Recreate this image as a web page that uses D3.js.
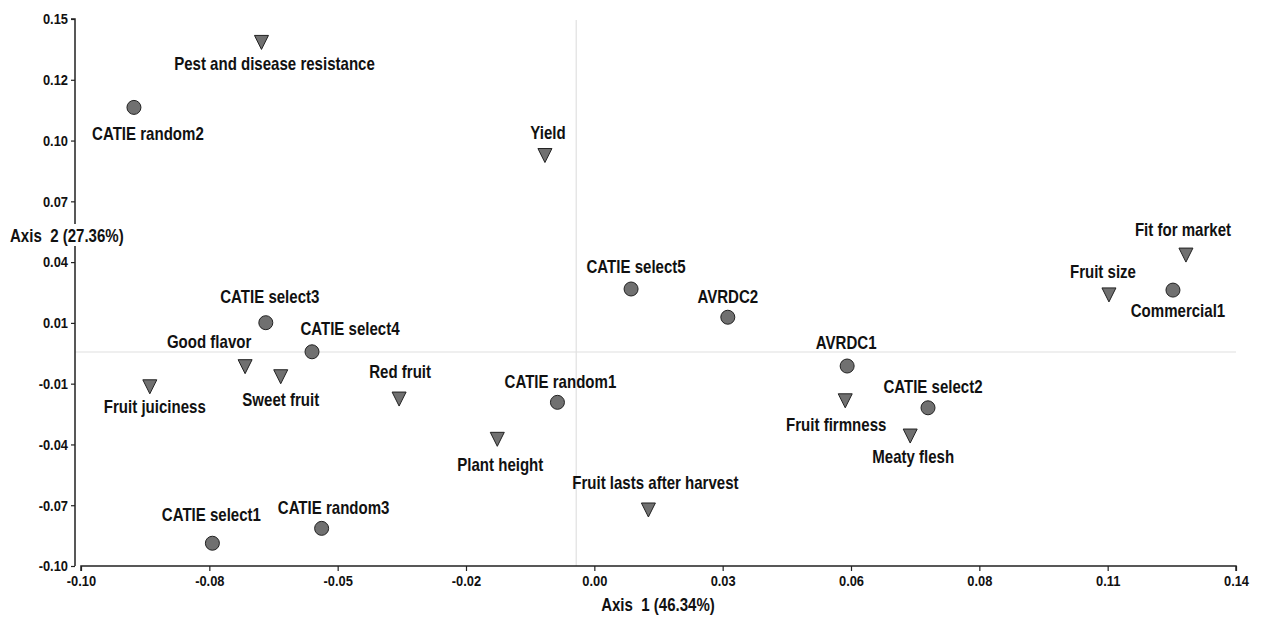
<!DOCTYPE html>
<html>
<head>
<meta charset="utf-8">
<script src="https://cdn.jsdelivr.net/npm/d3@7"></script>
<style>
    body { margin: 0; background: #fff; }
    text { font-family: "Liberation Sans", Arial, sans-serif; font-weight: bold; fill: #111; }
</style>
</head>
<body>
<script>
// cultivars (circles)
var cultivarNames = ["CATIE random2", "CATIE select5", "AVRDC2", "Commercial1", "AVRDC1",
    "CATIE select2", "CATIE select3", "CATIE select4", "CATIE random1", "CATIE select1", "CATIE random3"];
var cultivarAxis1 = [-0.0890, 0.0143, 0.0344, 0.1269, 0.0592, 0.0760, -0.0616, -0.0520, -0.0010, -0.0727, -0.0500];
var cultivarAxis2 = [0.1096, 0.0266, 0.0137, 0.0261, -0.0086, -0.0277, 0.0112, -0.0021, -0.0252, -0.0896, -0.0828];

// attributes (triangles)
var attributeNames = ["Pest and disease resistance", "Yield", "Fit for market", "Fruit size", "Fruit firmness",
    "Meaty flesh", "Good flavor", "Sweet fruit", "Fruit juiciness", "Red fruit", "Plant height", "Fruit lasts after harvest"];
var attributeAxis1 = [-0.0625, -0.0036, 0.1296, 0.1136, 0.0588, 0.0723, -0.0659, -0.0585, -0.0857, -0.0339, -0.0135, 0.0179];
var attributeAxis2 = [0.1393, 0.0876, 0.0421, 0.0239, -0.0245, -0.0406, -0.0089, -0.0135, -0.0181, -0.0237, -0.0421, -0.0744];

// tick labels as printed by the software
var xTickLabels = ["-0.10", "-0.08", "-0.05", "-0.02", "0.00", "0.03", "0.06", "0.08", "0.11", "0.14"];
var yTickLabels = ["0.15", "0.12", "0.10", "0.07", "0.04", "0.01", "-0.01", "-0.04", "-0.07", "-0.10"];

var xDomain = [-0.10, 0.14],
    yDomain = [-0.10, 0.15];

// where the reference (origin) lines sit
var originX = 0.0029,
    originY = -0.0022;

// label offsets (px) relative to each marker
var labelOffset = {
    "CATIE random2": [14, 26], "CATIE select5": [5, -22], "AVRDC2": [0, -20], "Commercial1": [5, 21],
    "AVRDC1": [-1, -23], "CATIE select2": [5, -21], "CATIE select3": [4, -26], "CATIE select4": [38, -23],
    "CATIE random1": [3, -20], "CATIE select1": [-1, -28], "CATIE random3": [12, -20],
    "Pest and disease resistance": [13, 21], "Yield": [3, -23], "Fit for market": [-3, -25],
    "Fruit size": [-6, -23], "Fruit firmness": [-9, 24], "Meaty flesh": [3, 21], "Good flavor": [-36, -25],
    "Sweet fruit": [0, 23], "Fruit juiciness": [5, 20], "Red fruit": [1, -27], "Plant height": [3, 26],
    "Fruit lasts after harvest": [7, -27]
};

var width = 1265,
    height = 617;

// the original picture is squeezed horizontally, so text is too
var squeeze = 0.86;

var svg = d3.select("body").append("svg")
    .attr("width", width)
    .attr("height", height);

var x = d3.scaleLinear().domain(xDomain).range([81, 1236]);
var y = d3.scaleLinear().domain(yDomain).range([566, 19]);

var xTicks = xTickLabels.map(function (d, i) { return xDomain[0] + i * (xDomain[1] - xDomain[0]) / (xTickLabels.length - 1); });
var yTicks = yTickLabels.map(function (d, i) { return yDomain[1] - i * (yDomain[1] - yDomain[0]) / (yTickLabels.length - 1); });

// reference lines
svg.append("line")
    .attr("x1", x(originX)).attr("x2", x(originX))
    .attr("y1", y(yDomain[1]) + 1).attr("y2", y(yDomain[0]))
    .attr("stroke", "#e0e0e0").attr("stroke-width", 1.2);
svg.append("line")
    .attr("x1", 75).attr("x2", x(xDomain[1]))
    .attr("y1", y(originY)).attr("y2", y(originY))
    .attr("stroke", "#e0e0e0").attr("stroke-width", 1.2);

// x axis
var xAxis = svg.append("g")
    .attr("transform", "translate(0," + 566 + ")")
    .call(d3.axisBottom(x).tickValues(xTicks).tickSize(5).tickPadding(4)
        .tickFormat(function (d, i) { return xTickLabels[i]; }));

// y axis
var yAxis = svg.append("g")
    .attr("transform", "translate(" + 75 + ",0)")
    .call(d3.axisLeft(y).tickValues(yTicks).tickSize(4).tickPadding(3)
        .tickFormat(function (d, i) { return yTickLabels[i]; }));

[xAxis, yAxis].forEach(function (a) {
    a.select(".domain").attr("stroke", "#222").attr("stroke-width", 1.5);
    a.selectAll(".tick line").attr("stroke", "#222").attr("stroke-width", 1.2);
    a.selectAll(".tick text").style("font-size", "15px").attr("fill", "#111")
        .attr("transform", "scale(" + squeeze + ",1)");
});
yAxis.selectAll(".tick text").attr("x", -7 / squeeze);
xAxis.select(".domain").attr("d", "M" + x(xDomain[0]) + ",5V0H" + x(xDomain[1]) + "V5");
yAxis.select(".domain").attr("d", "M-4," + y(yDomain[1]) + "H0V" + y(yDomain[0]));

// axis titles
svg.append("text")
    .attr("transform", "translate(658,605) scale(" + squeeze + ",1)")
    .attr("text-anchor", "middle").attr("dy", "0.35em")
    .style("font-size", "17.5px").style("white-space", "pre")
    .text("Axis  1 (46.34%)");

var yTitle = svg.append("g");
yTitle.append("rect")
    .attr("x", 70).attr("y", 224).attr("width", 10).attr("height", 22)
    .attr("fill", "#fff");
yTitle.append("text")
    .attr("transform", "translate(10,236) scale(" + squeeze + ",1)")
    .attr("dy", "0.35em")
    .style("font-size", "17.5px").style("white-space", "pre")
    .text("Axis  2 (27.36%)");

// data as rows
var cultivars = cultivarNames.map(function (d, i) {
    return { name: d, a1: cultivarAxis1[i], a2: cultivarAxis2[i] };
});
var attributes = attributeNames.map(function (d, i) {
    return { name: d, a1: attributeAxis1[i], a2: attributeAxis2[i] };
});

// triangles
svg.selectAll("path.attr")
    .data(attributes)
    .enter().append("path")
    .attr("class", "attr")
    .attr("d", "M-7,-7L7,-7L0,7Z")
    .attr("transform", function (d) { return "translate(" + x(d.a1) + "," + y(d.a2) + ")"; })
    .attr("fill", "#707070")
    .attr("stroke", "#222")
    .attr("stroke-width", 1);

// circles
svg.selectAll("circle.cult")
    .data(cultivars)
    .enter().append("circle")
    .attr("class", "cult")
    .attr("cx", function (d) { return x(d.a1); })
    .attr("cy", function (d) { return y(d.a2); })
    .attr("r", 7)
    .attr("fill", "#707070")
    .attr("stroke", "#222")
    .attr("stroke-width", 1);

// labels
svg.selectAll("text.lbl")
    .data(cultivars.concat(attributes))
    .enter().append("text")
    .attr("class", "lbl")
    .attr("transform", function (d) {
        return "translate(" + (x(d.a1) + labelOffset[d.name][0]) + "," + (y(d.a2) + labelOffset[d.name][1]) + ")" +
            " scale(" + squeeze + ",1)";
    })
    .attr("dy", "0.35em")
    .attr("text-anchor", "middle")
    .style("font-size", "17.5px")
    .text(function (d) { return d.name; });
</script>
</body>
</html>
